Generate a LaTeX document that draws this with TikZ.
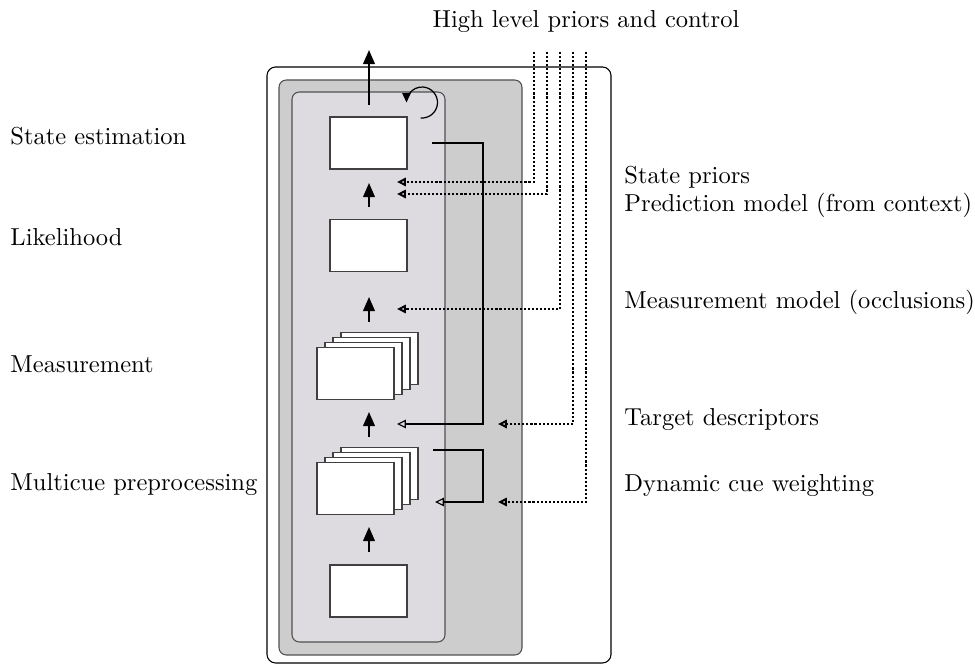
\documentclass[tikz,border=0pt]{standalone}
\usetikzlibrary{arrows.meta}
\definecolor{panelDark}{RGB}{205,205,205}
\definecolor{panelLight}{RGB}{221,219,224}
\definecolor{panelEdge}{RGB}{80,80,80}
\begin{document}
\begin{tikzpicture}[x=0.408pt,y=-0.408pt,
  stagebox/.style={draw=black!75,fill=white,line width=0.5pt,inner sep=0pt,outer sep=0pt,
    minimum width=31.4pt,minimum height=21.2pt},
  flow/.style={line width=0.8pt,-{Triangle[width=4.8pt,length=5.8pt]}},
  feed/.style={line width=0.45pt,-{Triangle[open,width=3.4pt,length=3.6pt]}},
  prior/.style={feed,dash pattern=on 0.85pt off 0.8pt,line width=0.8pt},
  lbl/.style={anchor=base west,inner sep=0pt,font=\fontsize{10}{12}\selectfont}]
\useasboundingbox (0,0) rectangle (975,664);

% nested panels
\draw[line width=0.45pt,rounded corners=3.5pt] (267,67) rectangle (611,663);
\draw[draw=panelEdge,fill=panelDark,line width=0.45pt,rounded corners=3pt] (279,80) rectangle (522,655);
\draw[draw=panelEdge,fill=panelLight,line width=0.45pt,rounded corners=3pt] (292,92) rectangle (445,642);

% processing stages
\node[stagebox] (se) at (368.5,143) {};
\node[stagebox] (lh) at (368.5,245.5) {};
\foreach \d in {3,2,1}{
  \node[stagebox] (ms\d) at (355.5+8*\d,373.5-5*\d) {};
  \node[stagebox] (mc\d) at (355.5+8*\d,488.5-5*\d) {};
}
\node[stagebox] (ms) at (355.5,373.5) {};
\node[stagebox] (mc) at (355.5,488.5) {};
\node[stagebox] (pp) at (368.5,591) {};

% upward data flow
\coordinate (outS) at (369,105); \coordinate (outE) at (369,50);
\coordinate (a1s) at (369,207); \coordinate (a1e) at (369,183);
\coordinate (a2s) at (369,322); \coordinate (a2e) at (369,297);
\coordinate (a3s) at (369,437); \coordinate (a3e) at (369,412);
\coordinate (a4s) at (369,552); \coordinate (a4e) at (369,527);
\draw[flow] (outS) -- (outE);
\draw[flow] (a1s) -- (a1e);
\draw[flow] (a2s) -- (a2e);
\draw[flow] (a3s) -- (a3e);
\draw[flow] (a4s) -- (a4e);

% recursion loop on the state estimate
\coordinate (loopC) at (422,102.5);
\draw[line width=0.5pt,-{Triangle[width=3.4pt,length=3.8pt]}]
  ([shift={(95:15.5)}]loopC) arc[start angle=95,end angle=-180,radius=15.5];

% internal feedback paths
\coordinate (fbS) at (432,143); \coordinate (fbE) at (397,424);
\coordinate (cwS) at (433,450); \coordinate (cwE) at (435,502);
\draw[feed] (fbS) -| (483,424) -- (fbE);
\draw[feed] (cwS) -| (483,502) -- (cwE);

% high level priors and control
\foreach \x/\y/\e in {534/182/397,547/194/397,560/309/397,573/424/498,586/502/498}{
  \coordinate (p\x) at (\x,52);
  \coordinate (q\x) at (\e,\y);
  \draw[prior] (p\x) |- (q\x);
}

% labels
\node[lbl,anchor=base] (top) at (586,28) {High level priors and control};
\node[lbl] (l1) at (10,145) {State estimation};
\node[lbl] (l2) at (10,246) {Likelihood};
\node[lbl] (l3) at (10,373) {Measurement};
\node[lbl] (l4) at (10,491) {Multicue preprocessing};
\node[lbl] (r1) at (624,184) {State priors};
\node[lbl] (r2) at (624,212) {Prediction model (from context)};
\node[lbl] (r3) at (624,309) {Measurement model (occlusions)};
\node[lbl] (r4) at (624,426) {Target descriptors};
\node[lbl] (r5) at (624,492) {Dynamic cue weighting};
\end{tikzpicture}
\end{document}
